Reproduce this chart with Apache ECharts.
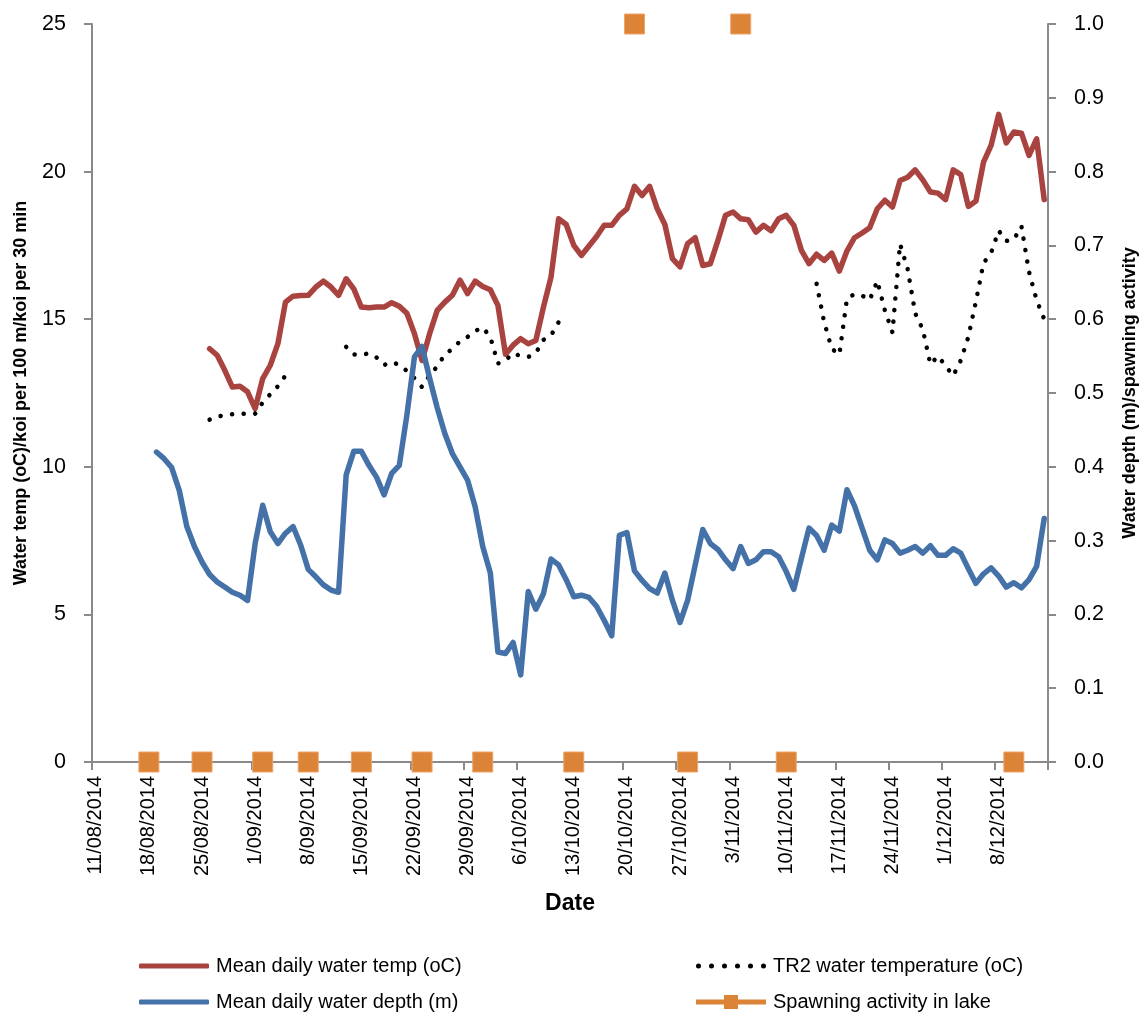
<!DOCTYPE html>
<html>
<head>
<meta charset="utf-8">
<title>Water temperature, depth and koi spawning activity</title>
<script src="https://cdn.jsdelivr.net/npm/echarts@6/dist/echarts.min.js"></script>
<style>
  html, body { margin: 0; padding: 0; background: #fff; }
  #chart { width: 1147px; height: 1017px; }
</style>
</head>
<body>
<div id="chart"></div>
<script>
// ---- Daily time axis -------------------------------------------------------
const axisStart = '11/08/2014';   // first day on the axis
const axisDays = 126;             // through 14/12/2014
const tickEveryDays = 7;

// ---- Mean daily water temperature (oC), daily from 26/08/2014 --------------
const meanTempStart = '26/08/2014';
const meanTemp = [
  14.0, 13.78, 13.27, 12.7, 12.73, 12.54, 11.97, 12.99, 13.44, 14.17,
  15.58, 15.78, 15.8, 15.81, 16.09, 16.29, 16.09, 15.81, 16.37, 16.03,
  15.41, 15.39, 15.41, 15.41, 15.56, 15.44, 15.2, 14.51, 13.6, 14.51,
  15.3, 15.58, 15.81, 16.32, 15.87, 16.29, 16.11, 16.0, 15.47, 13.81,
  14.12, 14.34, 14.17, 14.28, 15.41, 16.43, 18.4, 18.21, 17.5, 17.16,
  17.48, 17.8, 18.18, 18.18, 18.52, 18.74, 19.5, 19.19, 19.5, 18.74,
  18.21, 17.05, 16.77, 17.56, 17.76, 16.82, 16.88, 17.67, 18.52, 18.63,
  18.4, 18.37, 17.95, 18.18, 18.0, 18.4, 18.52, 18.18, 17.33, 16.88,
  17.2, 16.99, 17.24, 16.63, 17.31, 17.76, 17.92, 18.1, 18.74, 19.03,
  18.8, 19.7, 19.81, 20.06, 19.72, 19.31, 19.27, 19.05, 20.06, 19.9,
  18.82, 19.0, 20.32, 20.89, 21.94, 20.97, 21.34, 21.3, 20.55, 21.11,
  19.05
];

// ---- TR2 logger water temperature (oC), daily from 26/08/2014 --------------
const tr2TempStart = '26/08/2014';
const tr2Temp = [
  11.6, 11.7, 11.75, 11.78, 11.8, 11.8, 11.8, 12.18, 12.46, 12.73, 13.09,
  null, null, null, null, null, null, null,
  14.06, 13.8, 13.8, 13.84, 13.7, 13.45, 13.55, 13.45, 13.25, 13.0,
  12.7, 13.1, 13.4, 13.8, 14.0, 14.25, 14.4, 14.6, 14.72, 14.4,
  13.5, 13.6, 13.85, 13.75, 13.72, 13.86, 14.3, 14.45, 14.9,
  null, null, null, null, null, null, null, null, null, null, null,
  null, null, null, null, null, null, null, null, null, null, null,
  null, null, null, null, null, null, null, null, null, null, null,
  16.2, 14.9, 14.0, 13.8, 15.7, 15.85, 15.8, 15.65, 16.3, 15.3,
  14.55, 17.55, 16.7, 15.2, 14.65, 13.47, 13.75, 13.42, 13.08, 13.6,
  14.4, 15.6, 16.9, 17.25, 18.0, 17.65, 17.7, 18.15, 16.6, 15.65,
  15.0
];

// ---- Mean daily water depth (m), daily from 19/08/2014 ---------------------
const meanDepthStart = '19/08/2014';
const meanDepth = [
  0.420, 0.411, 0.399, 0.368, 0.319, 0.292, 0.271, 0.254, 0.244, 0.237,
  0.230, 0.226, 0.219, 0.296, 0.348, 0.312, 0.296, 0.310, 0.319, 0.294,
  0.261, 0.251, 0.240, 0.233, 0.230, 0.389, 0.421, 0.421, 0.402, 0.386,
  0.362, 0.391, 0.402, 0.470, 0.549, 0.563, 0.520, 0.480, 0.445, 0.418,
  0.400, 0.382, 0.346, 0.292, 0.256, 0.149, 0.147, 0.162, 0.118, 0.231,
  0.207, 0.228, 0.275, 0.267, 0.247, 0.224, 0.226, 0.223, 0.211, 0.192,
  0.171, 0.307, 0.311, 0.259, 0.246, 0.235, 0.229, 0.256, 0.219, 0.189,
  0.219, 0.267, 0.315, 0.296, 0.288, 0.274, 0.262, 0.292, 0.269, 0.274,
  0.285, 0.285, 0.278, 0.258, 0.234, 0.276, 0.317, 0.307, 0.287, 0.321,
  0.313, 0.369, 0.347, 0.317, 0.287, 0.274, 0.301, 0.296, 0.283, 0.287,
  0.292, 0.283, 0.293, 0.280, 0.280, 0.289, 0.283, 0.262, 0.242, 0.255,
  0.263, 0.252, 0.237, 0.243, 0.236, 0.247, 0.265, 0.330
];

// ---- Spawning activity in lake (0 = none, 1 = spawning) --------------------
const spawningDates = [
  '18/08/2014', '25/08/2014', '2/09/2014', '8/09/2014', '15/09/2014',
  '23/09/2014', '1/10/2014', '13/10/2014', '21/10/2014', '28/10/2014',
  '4/11/2014', '10/11/2014', '10/12/2014'
];
const spawningValues = [0, 0, 0, 0, 0, 0, 0, 0, 1, 0, 1, 0, 0];

// ---- Axis ranges -----------------------------------------------------------
const leftAxis = { min: 0, max: 25, interval: 5 };
const rightAxis = { min: 0, max: 1, interval: 0.1 };

// ---- Helpers ---------------------------------------------------------------
function parseDmy(s) {
  const [d, m, y] = s.split('/').map(Number);
  return Date.UTC(y, m - 1, d);
}
function formatDmy(t) {
  const dt = new Date(t);
  const d = dt.getUTCDate();
  const m = String(dt.getUTCMonth() + 1).padStart(2, '0');
  return d + '/' + m + '/' + dt.getUTCFullYear();
}
const DAY = 86400000;
const t0 = parseDmy(axisStart);
const dates = [];
for (let i = 0; i < axisDays; i++) dates.push(formatDmy(t0 + i * DAY));

function dayIndex(s) { return Math.round((parseDmy(s) - t0) / DAY); }
function alignDaily(start, values) {
  const out = new Array(axisDays).fill(null);
  const off = dayIndex(start);
  values.forEach((v, i) => { if (off + i < axisDays) out[off + i] = v; });
  return out;
}
function alignEvents(days, values) {
  const out = new Array(axisDays).fill(null);
  days.forEach((s, i) => { out[dayIndex(s)] = values[i]; });
  return out;
}

// ---- Styling ---------------------------------------------------------------
const RED = '#A94340';
const BLUE = '#4471A8';
const ORANGE = '#DB8438';
const AXIS = '#8A8A8A';
const FONT = '"Liberation Sans", Arial, sans-serif';

// legend keys: a solid bar, a row of dots, and a bar with a square marker
const ICON_DOTS = 'path://' + [0, 13, 26, 39, 52, 65].map(x =>
  'M' + x + ',2.5A2.5,2.5 0 1 1 ' + (x + 5) + ',2.5A2.5,2.5 0 1 1 ' + x + ',2.5Z').join('');
const ICON_MARKER_LINE = 'path://M0,4.5H28V0H42V4.5H70V9.5H42V14H28V9.5H0Z';

const chart = echarts.init(document.getElementById('chart'), null, { renderer: 'canvas' });

const axisLine = { show: true, lineStyle: { color: AXIS, width: 2 } };
const legendText = { fontFamily: FONT, fontSize: 20, lineHeight: 26, color: '#000', padding: [0, 0, 0, 2] };

function legendItem(name, left, top, icon, h) {
  return {
    data: [{ name: name, icon: icon }],
    orient: 'horizontal', left: left, top: top,
    padding: 0,
    itemWidth: 70, itemHeight: h,
    selectedMode: false,
    itemStyle: { borderWidth: 0 },
    textStyle: legendText
  };
}

chart.setOption({
  animation: false,
  backgroundColor: '#ffffff',
  grid: { left: 92, right: 97, top: 24, bottom: 255, containLabel: false },
  xAxis: {
    type: 'category',
    data: dates,
    boundaryGap: true,
    name: 'Date',
    nameLocation: 'middle',
    nameGap: 130,
    nameTextStyle: { fontFamily: FONT, fontSize: 23, fontWeight: 'bold', color: '#000' },
    axisLine: axisLine,
    axisTick: { show: true, interval: tickEveryDays - 1, length: 8, inside: false,
                lineStyle: { color: AXIS, width: 2 } },
    axisLabel: { interval: tickEveryDays - 1, rotate: 90, margin: 14,
                 fontFamily: FONT, fontSize: 20, color: '#000' },
    splitLine: { show: false }
  },
  yAxis: [
    {
      type: 'value',
      position: 'left',
      min: leftAxis.min, max: leftAxis.max, interval: leftAxis.interval,
      name: 'Water temp (oC)/koi per 100 m/koi per 30 min',
      nameLocation: 'middle',
      nameRotate: 90,
      nameGap: 62,
      nameTextStyle: { fontFamily: FONT, fontSize: 18, fontWeight: 'bold', color: '#000' },
      axisLine: axisLine,
      axisTick: { show: true, length: 8, lineStyle: { color: AXIS, width: 2 } },
      axisLabel: { margin: 26, fontFamily: FONT, fontSize: 21.5, color: '#000' },
      splitLine: { show: false }
    },
    {
      type: 'value',
      position: 'right',
      min: rightAxis.min, max: rightAxis.max, interval: rightAxis.interval,
      name: 'Water depth (m)/spawning activity',
      nameLocation: 'middle',
      nameRotate: 90,
      nameGap: 73,
      nameTextStyle: { fontFamily: FONT, fontSize: 18, fontWeight: 'bold', color: '#000' },
      axisLine: axisLine,
      axisTick: { show: true, length: 8, lineStyle: { color: AXIS, width: 2 } },
      axisLabel: { margin: 26, fontFamily: FONT, fontSize: 21.5, color: '#000',
                   formatter: v => v.toFixed(1) },
      splitLine: { show: false }
    }
  ],
  legend: [
    legendItem('Mean daily water temp (oC)', 139, 953, 'roundRect', 5),
    legendItem('Mean daily water depth (m)', 139, 989, 'roundRect', 5),
    legendItem('TR2 water temperature (oC)', 696, 953, ICON_DOTS, 5),
    legendItem('Spawning activity in lake', 696, 989, ICON_MARKER_LINE, 14)
  ],
  series: [
    {
      name: 'Mean daily water temp (oC)',
      type: 'line',
      yAxisIndex: 0,
      data: alignDaily(meanTempStart, meanTemp),
      symbol: 'none',
      connectNulls: false,
      lineStyle: { color: RED, width: 5.5, join: 'round', cap: 'round' },
      itemStyle: { color: RED },
      z: 2
    },
    {
      name: 'TR2 water temperature (oC)',
      type: 'line',
      yAxisIndex: 0,
      data: alignDaily(tr2TempStart, tr2Temp),
      symbol: 'none',
      connectNulls: false,
      lineStyle: { color: '#000', width: 4.5, type: [0.1, 11.5], cap: 'round', join: 'round' },
      itemStyle: { color: '#000' },
      z: 3
    },
    {
      name: 'Mean daily water depth (m)',
      type: 'line',
      yAxisIndex: 1,
      data: alignDaily(meanDepthStart, meanDepth),
      symbol: 'none',
      connectNulls: false,
      lineStyle: { color: BLUE, width: 5.5, join: 'round', cap: 'round' },
      itemStyle: { color: BLUE },
      z: 4
    },
    {
      name: 'Spawning activity in lake',
      type: 'line',
      yAxisIndex: 1,
      data: alignEvents(spawningDates, spawningValues),
      symbol: 'rect',
      symbolSize: 20,
      showSymbol: true,
      showAllSymbol: true,
      connectNulls: false,
      clip: false,
      lineStyle: { color: ORANGE, width: 5 },
      itemStyle: { color: ORANGE, borderColor: '#EFA266', borderWidth: 1 },
      z: 5
    }
  ]
});
</script>
</body>
</html>
